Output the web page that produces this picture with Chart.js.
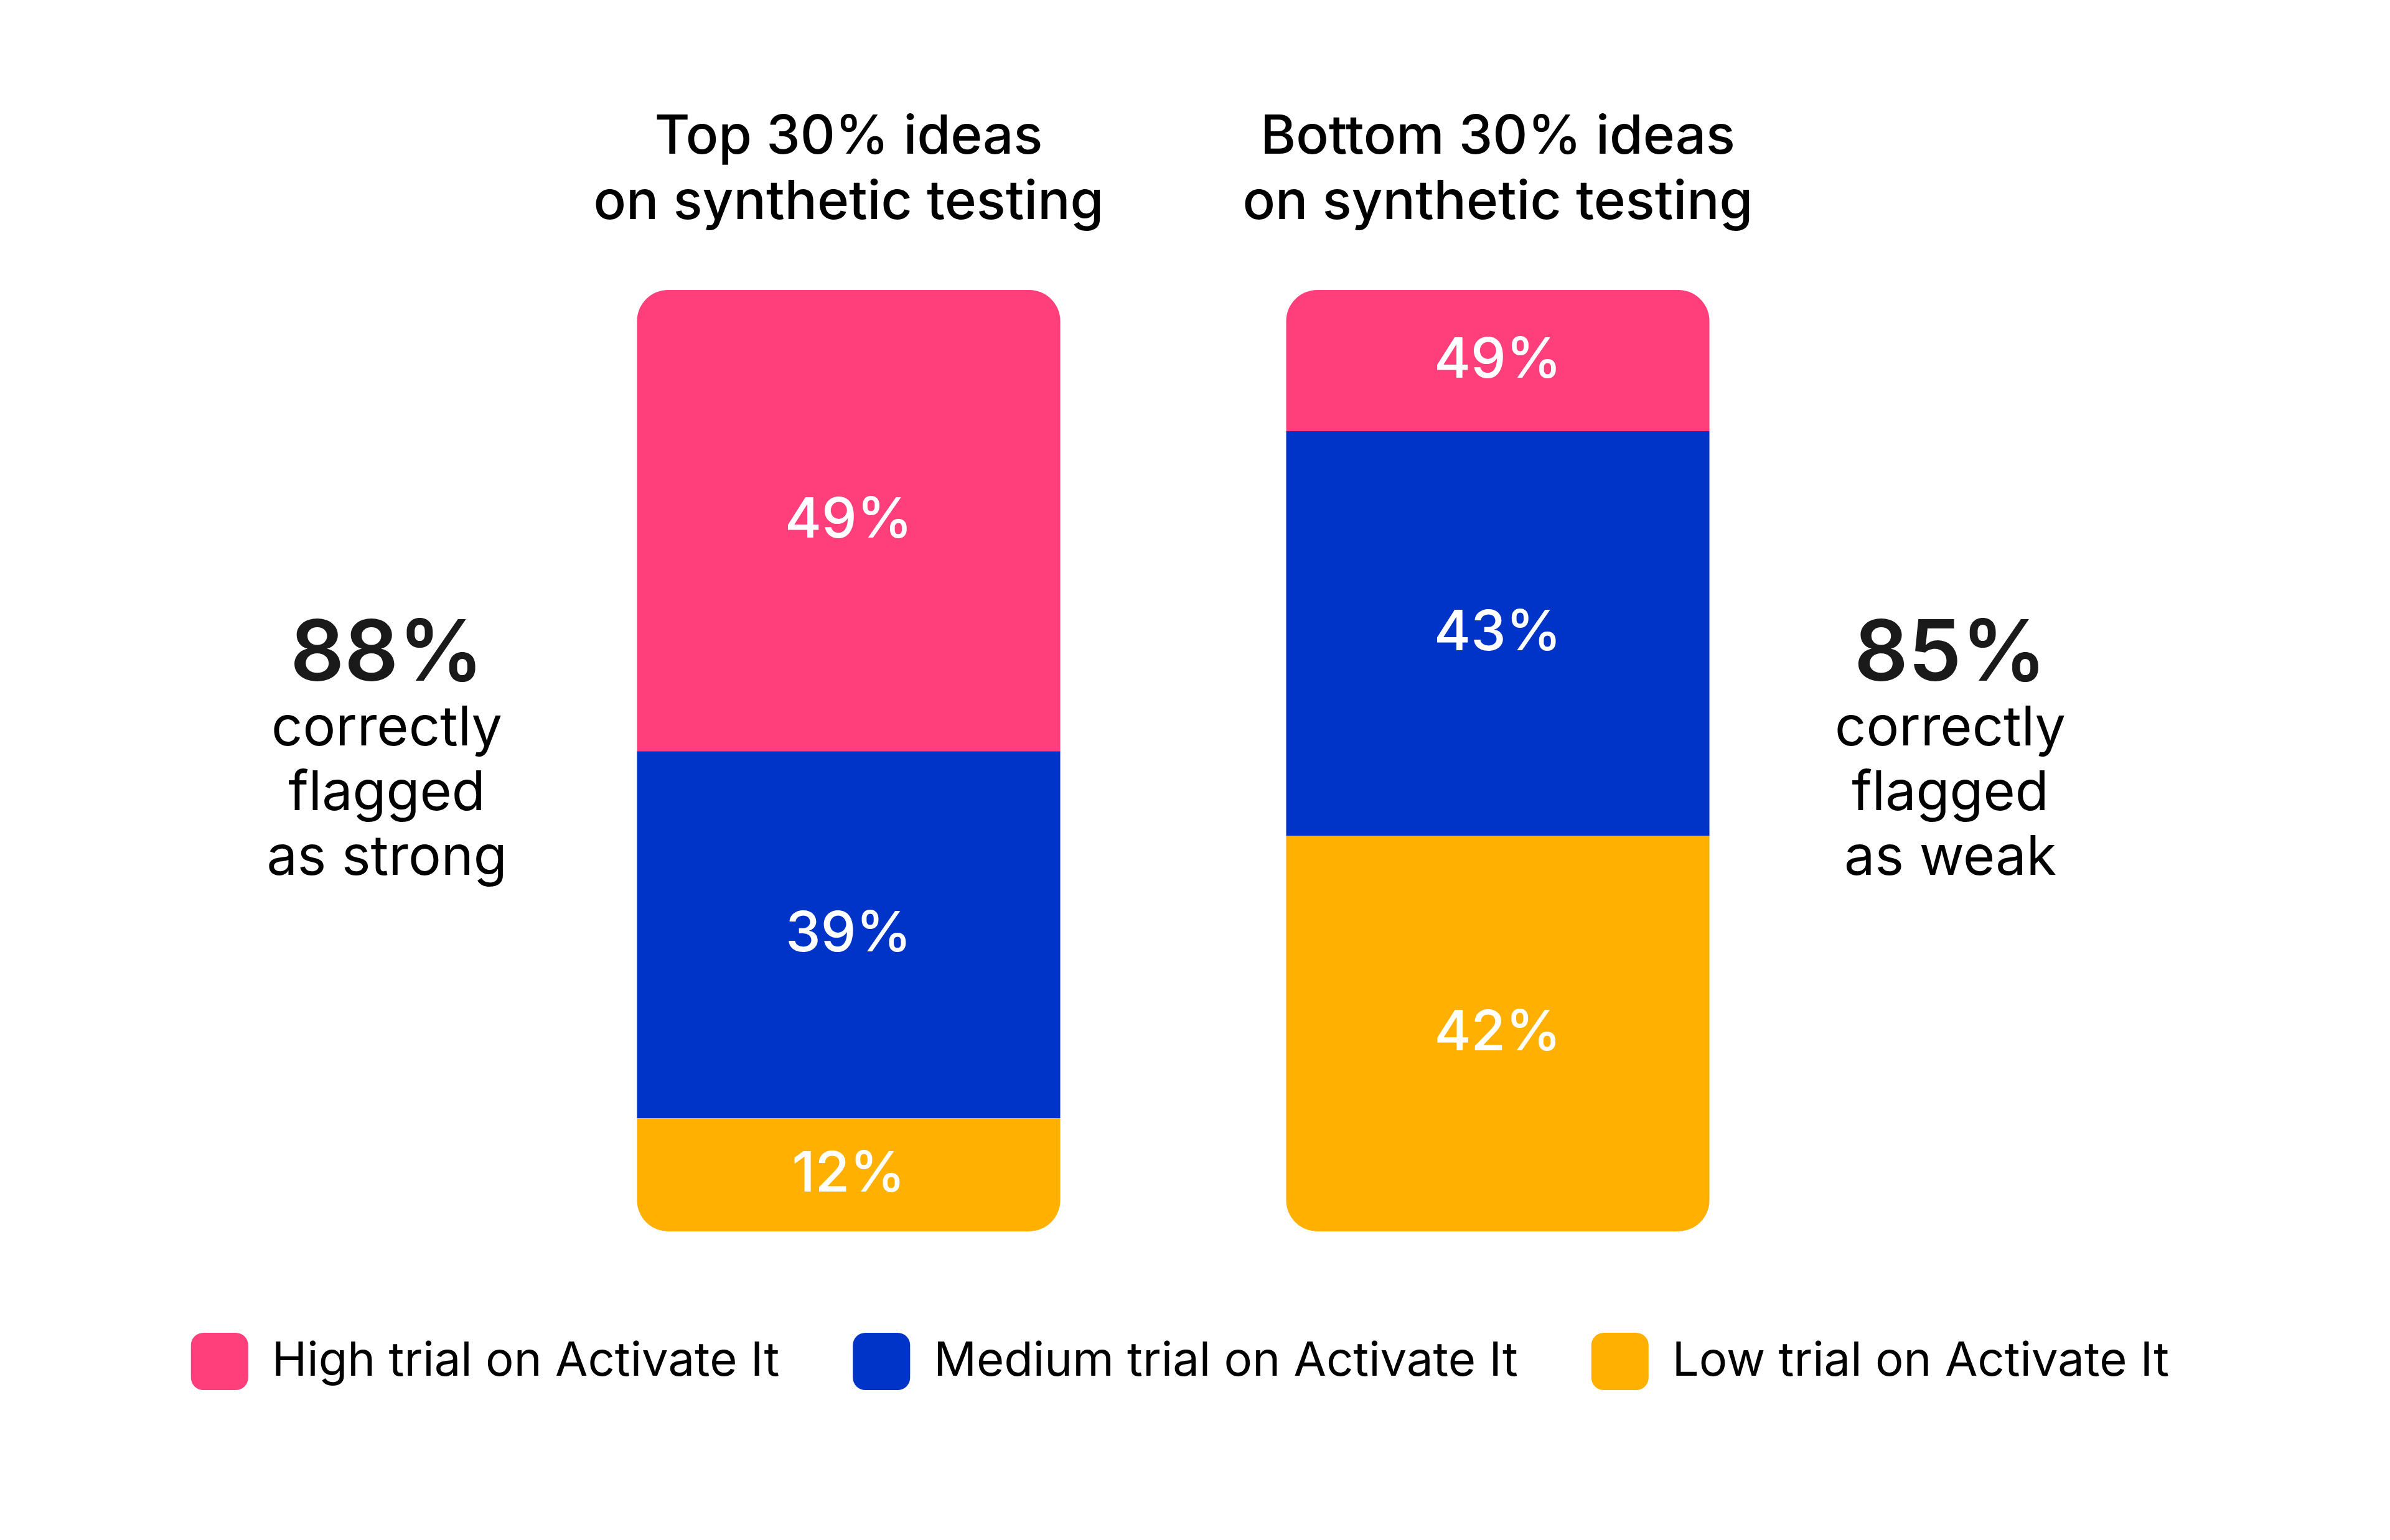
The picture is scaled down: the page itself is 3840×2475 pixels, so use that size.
<!DOCTYPE html>
<html>
<head>
<meta charset="utf-8">
<script src="https://cdn.jsdelivr.net/npm/chart.js@4.4.1/dist/chart.umd.min.js"></script>
<style>
  html, body { margin: 0; padding: 0; background: #fff; }
  #wrap { width: 3840px; height: 2475px; position: relative; }
</style>
</head>
<body>
<div id="wrap"><canvas id="graficTrial"></canvas></div>
<script>
const COLORS = {
    rosa: '#FF3E7C', blau: '#0033C8', groc: '#FFB000',
    negre: '#000000', gris: '#1A1A1A', blanc: '#FFFFFF'
};

// Dades llegides del gràfic
const categories   = [['Top 30% ideas', 'on synthetic testing'],
                      ['Bottom 30% ideas', 'on synthetic testing']];
const seriesNames  = ['Low trial on Activate It', 'Medium trial on Activate It', 'High trial on Activate It'];
const lowTrial     = [12, 42];
const mediumTrial  = [39, 43];
const highTrial    = [49, 15];
// etiquetes tal com apareixen impreses a cada segment
const lowLabels    = ['12%', '42%'];
const mediumLabels = ['39%', '43%'];
const highLabels   = ['49%', '49%'];
const sideStats    = ['88%', '85%'];
const sideNotes    = [['correctly', 'flagged', 'as strong'],
                      ['correctly', 'flagged', 'as weak']];

// Etiquetes blanques dins de cada segment
const barLabels = {
    id: 'barLabels',
    afterDatasetsDraw(chart) {
        const ctx = chart.ctx;
        ctx.save();
        ctx.font = '500 90px Inter';
        ctx.fillStyle = COLORS.blanc;
        ctx.textAlign = 'center';
        ctx.textBaseline = 'middle';
        chart.data.datasets.forEach((ds, i) => {
            chart.getDatasetMeta(i).data.forEach((bar, j) => {
                const { x, y } = bar.getCenterPoint();
                ctx.fillText(ds.valueLabels[j], x, y);
            });
        });
        ctx.restore();
    }
};

// Text lateral: percentatge gran + nota
const sideText = {
    id: 'sideText',
    afterDraw(chart) {
        const ctx = chart.ctx;
        const xs = chart.scales.x;
        const top = chart.chartArea.top;
        const posX = [xs.getPixelForValue(0) - 742, xs.getPixelForValue(1) + 727];
        ctx.save();
        ctx.textAlign = 'center';
        ctx.textBaseline = 'alphabetic';
        sideStats.forEach((stat, i) => {
            ctx.font = '600 136px Inter';
            ctx.fillStyle = COLORS.gris;
            ctx.fillText(stat, posX[i], top + 628);
            ctx.font = '400 88px Inter';
            ctx.fillStyle = COLORS.negre;
            sideNotes[i].forEach((line, k) => {
                ctx.fillText(line, posX[i], top + 732 + k * 104);
            });
        });
        ctx.restore();
    }
};

function buildConfig() {
    return {
        type: 'bar',
        data: {
            labels: categories,
            datasets: [
                { label: seriesNames[0], data: lowTrial, valueLabels: lowLabels,
                  backgroundColor: COLORS.groc,
                  borderRadius: { topLeft: 0, topRight: 0, bottomLeft: 50, bottomRight: 50 } },
                { label: seriesNames[1], data: mediumTrial, valueLabels: mediumLabels,
                  backgroundColor: COLORS.blau, borderRadius: 0 },
                { label: seriesNames[2], data: highTrial, valueLabels: highLabels,
                  backgroundColor: COLORS.rosa,
                  borderRadius: { topLeft: 50, topRight: 50, bottomLeft: 0, bottomRight: 0 } }
            ].map(ds => ({ ...ds, borderWidth: 0, borderSkipped: false,
                           categoryPercentage: 0.652, barPercentage: 1 }))
        },
        plugins: [barLabels, sideText],
        options: {
            responsive: true,
            maintainAspectRatio: false,
            devicePixelRatio: 1,
            animation: false,
            events: [],
            layout: { padding: { top: 80, bottom: 231, left: 0, right: 48 } },
            plugins: {
                tooltip: { enabled: false },
                legend: {
                    position: 'bottom',
                    reverse: true,
                    labels: {
                        boxWidth: 92, boxHeight: 92, padding: 118,
                        useBorderRadius: true, borderRadius: 20,
                        color: COLORS.negre,
                        font: { family: 'Inter', size: 76, weight: '400' }
                    }
                }
            },
            scales: {
                x: {
                    position: 'top',
                    stacked: true,
                    grid: { display: false, drawTicks: false },
                    border: { display: false },
                    ticks: {
                        color: COLORS.negre, padding: 88,
                        maxRotation: 0, autoSkip: false,
                        font: { family: 'Inter', size: 87, weight: '500', lineHeight: '105px' }
                    }
                },
                y: {
                    position: 'left',
                    stacked: true,
                    min: -2.98, max: 100,
                    grid: { display: false, drawTicks: false },
                    border: { display: false },
                    ticks: { display: false },
                    afterFit: s => { s.width = 842; }
                },
                yRight: {
                    position: 'right',
                    grid: { display: false, drawTicks: false },
                    border: { display: false },
                    ticks: { display: false },
                    afterFit: s => { s.width = 864; }
                }
            }
        }
    };
}

document.fonts.load('500 90px Inter').then(() => {
    new Chart(document.getElementById('graficTrial'), buildConfig());
});
</script>
</body>
</html>
